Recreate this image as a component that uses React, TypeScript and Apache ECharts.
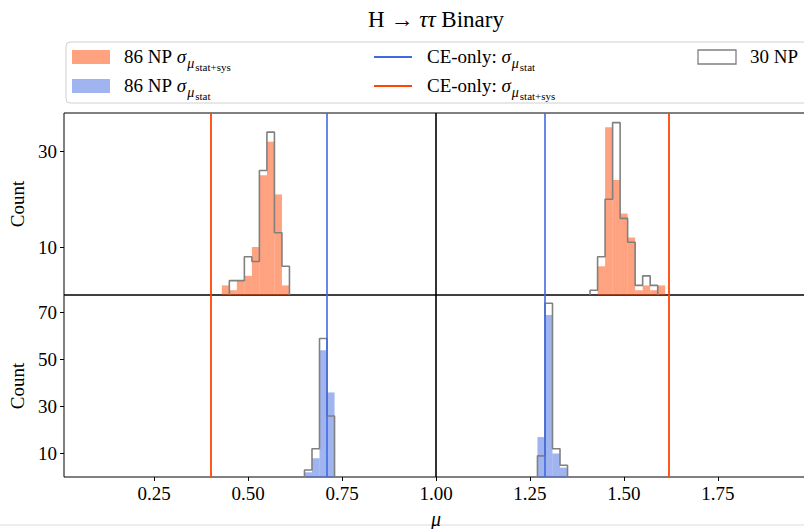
import React, { useEffect, useRef } from "react";
import * as echarts from "echarts";

// ---------- data ----------
// top row: 86 NP sigma_mu(stat+sys) (orange) and 30 NP (gray step)
const topLeftStatSysEdges = [0.43, 0.45, 0.47, 0.49, 0.51, 0.53, 0.55, 0.57, 0.59, 0.61];
const topLeftStatSysCounts = [2, 1, 3, 4, 10, 25, 32, 21, 2];
const topLeft30Edges = [0.45, 0.47, 0.49, 0.51, 0.53, 0.55, 0.57, 0.59, 0.61];
const topLeft30Counts = [3, 3, 8, 7, 26, 34, 13, 6];
const topRightStatSysEdges = [1.43, 1.45, 1.47, 1.49, 1.51, 1.53, 1.55, 1.57, 1.59, 1.61];
const topRightStatSysCounts = [6, 35, 24, 17, 12, 1, 2, 1, 2];
const topRight30Edges = [1.41, 1.43, 1.45, 1.47, 1.49, 1.51, 1.53, 1.55, 1.57, 1.59];
const topRight30Counts = [1, 8, 20, 36, 16, 11, 2, 4, 2];
// bottom row: 86 NP sigma_mu(stat) (blue) and 30 NP (gray step)
const botLeftStatEdges = [0.65, 0.67, 0.69, 0.71, 0.73];
const botLeftStatCounts = [2, 8, 54, 36];
const botLeft30Edges = [0.65, 0.67, 0.69, 0.71, 0.73];
const botLeft30Counts = [3, 12, 59, 26];
const botRightStatEdges = [1.27, 1.29, 1.31, 1.33, 1.35];
const botRightStatCounts = [17, 69, 10, 4];
const botRight30Edges = [1.27, 1.29, 1.31, 1.33, 1.35];
const botRight30Counts = [9, 74, 12, 5];
// CE-only reference lines
const ceOnlyStat = [0.713, 1.293];
const ceOnlyStatSys = [0.399, 1.621];
const nominalMu = [1.0];
// axes
const xTicks = [0.25, 0.5, 0.75, 1.0, 1.25, 1.5, 1.75];
const topYTicks = [10, 30];
const botYTicks = [10, 30, 50, 70];
const xRange = [0.01, 1.99];
const topYMax = 38;
const botYMax = 77.5;

// ---------- style ----------
const ORANGERED = "#FF4500";
const ROYALBLUE = "#4169E1";
const ORANGE_FILL = "rgba(255,69,0,0.5)";
const BLUE_FILL = "rgba(65,105,225,0.5)";
const GRAY = "#808080";
const FONT = "Liberation Serif";

function histBars(edges: number[], counts: number[], fill: string, gi: number) {
  return {
    type: "custom",
    xAxisIndex: gi,
    yAxisIndex: gi,
    z: 2,
    clip: true,
    data: counts.map((c, i) => [edges[i], edges[i + 1], c]),
    encode: { x: [0, 1], y: 2 },
    renderItem: (params: any, api: any) => {
      const p0 = api.coord([api.value(0), 0]);
      const p1 = api.coord([api.value(1), api.value(2)]);
      return {
        type: "rect",
        shape: { x: p0[0], y: p1[1], width: p1[0] - p0[0], height: p0[1] - p1[1] },
        style: { fill },
      };
    },
  };
}

function histStep(edges: number[], counts: number[], gi: number) {
  const pts: number[][] = [[edges[0], 0]];
  counts.forEach((c, i) => {
    pts.push([edges[i], c]);
    pts.push([edges[i + 1], c]);
  });
  pts.push([edges[edges.length - 1], 0]);
  return {
    type: "line",
    xAxisIndex: gi,
    yAxisIndex: gi,
    z: 3,
    symbol: "none",
    silent: true,
    lineStyle: { color: GRAY, width: 1.6 },
    data: pts,
  };
}

function vlines(gi: number) {
  const mk = (v: number, color: string, width: number) => ({
    xAxis: v,
    lineStyle: { color, width, type: "solid" },
  });
  return {
    type: "line",
    xAxisIndex: gi,
    yAxisIndex: gi,
    data: [],
    z: 4,
    markLine: {
      silent: true,
      symbol: "none",
      label: { show: false },
      animation: false,
      data: [
        ...ceOnlyStat.map((v) => mk(v, ROYALBLUE, 1.6)),
        ...ceOnlyStatSys.map((v) => mk(v, ORANGERED, 1.8)),
        ...nominalMu.map((v) => mk(v, "#000", 1.6)),
      ],
    },
  };
}

let measureCtx: CanvasRenderingContext2D | null = null;
function textWidth(t: string, font: string) {
  if (!measureCtx) measureCtx = document.createElement("canvas").getContext("2d");
  measureCtx!.font = font;
  return measureCtx!.measureText(t).width;
}

type Piece = { t: string; size: number; italic?: boolean; dy?: number };
function mathText(x: number, baseline: number, pieces: Piece[]) {
  const els: any[] = [];
  let cx = x;
  pieces.forEach((p) => {
    const style = p.italic ? "italic" : "normal";
    els.push({
      type: "text",
      x: cx,
      y: baseline + (p.dy || 0),
      style: {
        text: p.t,
        fontFamily: FONT,
        fontSize: p.size,
        fontStyle: style,
        fill: "#000",
        align: "left",
        verticalAlign: "bottom",
      },
    });
    cx += textWidth(p.t, `${style} ${p.size}px "${FONT}"`) + (p.italic ? 1 : 0);
  });
  return els;
}

const LS = 19;
const sigmaSub = (sub: string): Piece[] => [
  { t: "σ", size: LS, italic: true },
  { t: "μ", size: 14, italic: true, dy: 4 },
  { t: sub, size: 11, dy: 6 },
];

export default function App() {
  const ref = useRef<HTMLDivElement>(null);
  useEffect(() => {
    if (!ref.current) return;
    const chart = echarts.init(ref.current, null, { renderer: "svg" });

    const row1 = 57;
    const row2 = 86;
    const bl = 9; // baseline offset below row center

    const legend: any[] = [
      {
        type: "rect",
        shape: { x: 66, y: 42, width: 800, height: 61, r: 4 },
        style: { fill: "#fff", stroke: "#d0d0d0", lineWidth: 1 },
      },
      { type: "rect", shape: { x: 72, y: row1 - 7, width: 38, height: 14 }, style: { fill: ORANGE_FILL } },
      { type: "rect", shape: { x: 72, y: row2 - 7, width: 38, height: 14 }, style: { fill: BLUE_FILL } },
      { type: "line", shape: { x1: 374, y1: row1, x2: 412, y2: row1 }, style: { stroke: ROYALBLUE, lineWidth: 1.8 } },
      { type: "line", shape: { x1: 374, y1: row2, x2: 412, y2: row2 }, style: { stroke: ORANGERED, lineWidth: 1.8 } },
      {
        type: "rect",
        shape: { x: 698, y: row1 - 7, width: 38, height: 14 },
        style: { fill: "#fff", stroke: GRAY, lineWidth: 1.3 },
      },
      ...mathText(124, row1 + bl, [{ t: "86 NP ", size: LS }, ...sigmaSub("stat+sys")]),
      ...mathText(124, row2 + bl, [{ t: "86 NP ", size: LS }, ...sigmaSub("stat")]),
      ...mathText(427, row1 + bl, [{ t: "CE-only: ", size: LS }, ...sigmaSub("stat")]),
      ...mathText(427, row2 + bl, [{ t: "CE-only: ", size: LS }, ...sigmaSub("stat+sys")]),
      ...mathText(750, row1 + bl, [{ t: "30 NP", size: LS }]),
    ];

    const axisLabelStyle = { color: "#000", fontFamily: FONT, fontSize: 19 };
    const gridCommon = {
      left: 64,
      width: 744,
      height: 182,
      show: true,
      borderColor: "#000",
      borderWidth: 1,
      backgroundColor: "transparent",
      outerBoundsMode: "none",
      containLabel: false,
    };

    chart.setOption({
      animation: false,
      grid: [
        { ...gridCommon, top: 113 },
        { ...gridCommon, top: 295 },
      ],
      xAxis: [
        {
          type: "value",
          gridIndex: 0,
          min: xRange[0],
          max: xRange[1],
          axisLine: { show: false },
          axisTick: { show: false },
          axisLabel: { show: false },
          splitLine: { show: false },
        },
        {
          type: "value",
          gridIndex: 1,
          min: xRange[0],
          max: xRange[1],
          axisLine: { show: false },
          axisTick: { show: true, customValues: xTicks, length: 4, lineStyle: { color: "#000" } },
          axisLabel: { ...axisLabelStyle, customValues: xTicks, margin: 7, formatter: (v: number) => v.toFixed(2) },
          splitLine: { show: false },
          name: "μ",
          nameLocation: "middle",
          nameGap: 32,
          nameTextStyle: { color: "#000", fontFamily: FONT, fontSize: 20, fontStyle: "italic" },
        },
      ],
      yAxis: [
        {
          type: "value",
          gridIndex: 0,
          min: 0,
          max: topYMax,
          axisLine: { show: false },
          axisTick: { show: true, customValues: topYTicks, length: 4, lineStyle: { color: "#000" } },
          axisLabel: { ...axisLabelStyle, customValues: topYTicks, margin: 7 },
          splitLine: { show: false },
          name: "Count",
          nameLocation: "middle",
          nameGap: 36,
          nameTextStyle: { color: "#000", fontFamily: FONT, fontSize: 19 },
        },
        {
          type: "value",
          gridIndex: 1,
          min: 0,
          max: botYMax,
          axisLine: { show: false },
          axisTick: { show: true, customValues: botYTicks, length: 4, lineStyle: { color: "#000" } },
          axisLabel: { ...axisLabelStyle, customValues: botYTicks, margin: 7 },
          splitLine: { show: false },
          name: "Count",
          nameLocation: "middle",
          nameGap: 36,
          nameTextStyle: { color: "#000", fontFamily: FONT, fontSize: 19 },
        },
      ],
      series: [
        histBars(topLeftStatSysEdges, topLeftStatSysCounts, ORANGE_FILL, 0),
        histBars(topRightStatSysEdges, topRightStatSysCounts, ORANGE_FILL, 0),
        histStep(topLeft30Edges, topLeft30Counts, 0),
        histStep(topRight30Edges, topRight30Counts, 0),
        vlines(0),
        histBars(botLeftStatEdges, botLeftStatCounts, BLUE_FILL, 1),
        histBars(botRightStatEdges, botRightStatCounts, BLUE_FILL, 1),
        histStep(botLeft30Edges, botLeft30Counts, 1),
        histStep(botRight30Edges, botRight30Counts, 1),
        vlines(1),
      ],
      graphic: [
        {
          type: "text",
          x: 436,
          y: 19,
          style: {
            text: "{a|H → }{b|ττ}{a| Binary}",
            align: "center",
            verticalAlign: "middle",
            rich: {
              a: { fontFamily: FONT, fontSize: 23, fill: "#000" },
              b: { fontFamily: FONT, fontSize: 23, fontStyle: "italic", fill: "#000" },
            },
          },
        },
        ...legend,
        {
          type: "line",
          shape: { x1: 0, y1: 525, x2: 804, y2: 525 },
          style: { stroke: "#dcdcdc", lineWidth: 1 },
        },
      ],
    });
    return () => chart.dispose();
  }, []);

  return (
    <div
      ref={ref}
      style={{ position: "absolute", left: 0, top: 0, width: 804, height: 529, background: "#fff" }}
    />
  );
}
